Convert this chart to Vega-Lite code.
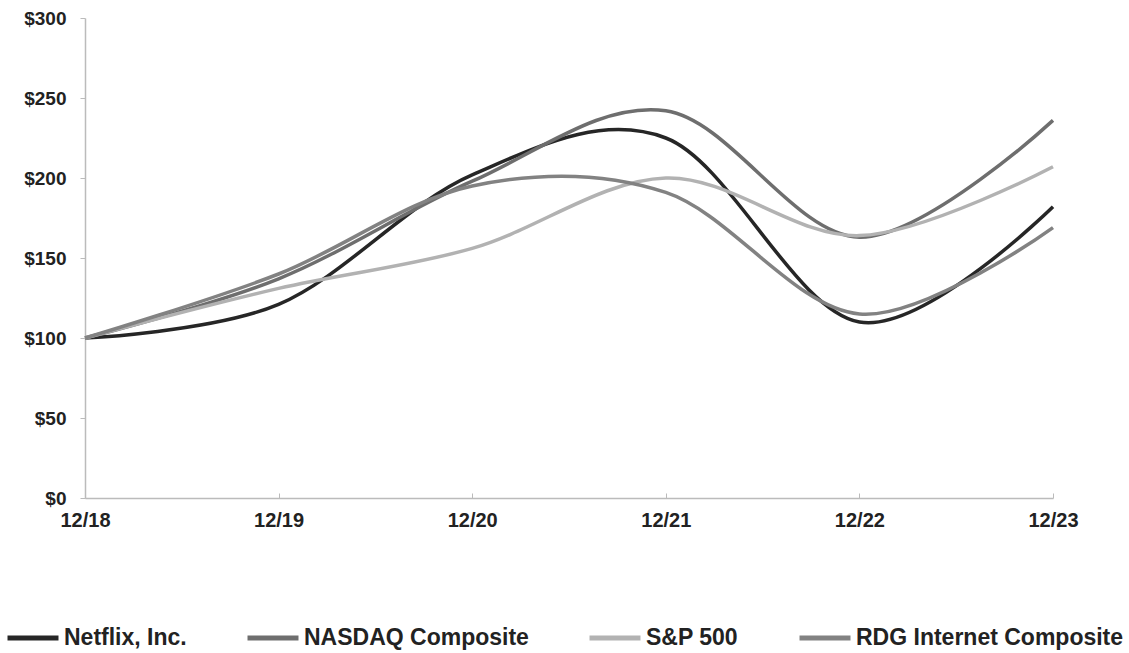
{
  "$schema": "https://vega.github.io/schema/vega-lite/v6.json",
  "width": 968,
  "height": 480,
  "autosize": {"type": "none"},
  "padding": {"left": 85, "top": 18, "right": 76, "bottom": 155},
  "background": "white",
  "config": {
    "view": {"stroke": null},
    "font": "Liberation Sans"
  },
  "data": {
    "values": [
      {"year": "12/18", "series": "Netflix, Inc.", "value": 100},
      {"year": "12/19", "series": "Netflix, Inc.", "value": 121},
      {"year": "12/20", "series": "Netflix, Inc.", "value": 202},
      {"year": "12/21", "series": "Netflix, Inc.", "value": 225},
      {"year": "12/22", "series": "Netflix, Inc.", "value": 110},
      {"year": "12/23", "series": "Netflix, Inc.", "value": 182},
      {"year": "12/18", "series": "NASDAQ Composite", "value": 100},
      {"year": "12/19", "series": "NASDAQ Composite", "value": 137},
      {"year": "12/20", "series": "NASDAQ Composite", "value": 198},
      {"year": "12/21", "series": "NASDAQ Composite", "value": 242},
      {"year": "12/22", "series": "NASDAQ Composite", "value": 163},
      {"year": "12/23", "series": "NASDAQ Composite", "value": 236},
      {"year": "12/18", "series": "S&P 500", "value": 100},
      {"year": "12/19", "series": "S&P 500", "value": 131},
      {"year": "12/20", "series": "S&P 500", "value": 156},
      {"year": "12/21", "series": "S&P 500", "value": 200},
      {"year": "12/22", "series": "S&P 500", "value": 164},
      {"year": "12/23", "series": "S&P 500", "value": 207},
      {"year": "12/18", "series": "RDG Internet Composite", "value": 100},
      {"year": "12/19", "series": "RDG Internet Composite", "value": 140},
      {"year": "12/20", "series": "RDG Internet Composite", "value": 195},
      {"year": "12/21", "series": "RDG Internet Composite", "value": 191},
      {"year": "12/22", "series": "RDG Internet Composite", "value": 115},
      {"year": "12/23", "series": "RDG Internet Composite", "value": 169}
    ]
  },
  "mark": {"type": "line", "interpolate": "cardinal", "strokeWidth": 3.5},
  "encoding": {
    "x": {
      "field": "year",
      "type": "ordinal",
      "scale": {"type": "point", "padding": 0},
      "axis": {
        "title": null,
        "labelAngle": 0,
        "labelFontSize": 20,
        "labelFontWeight": "bold",
        "labelColor": "#222222",
        "labelPadding": 17,
        "tickSize": -5,
        "tickColor": "#bbbbbb",
        "domainColor": "#bbbbbb",
        "domainWidth": 1.5,
        "grid": false
      }
    },
    "y": {
      "field": "value",
      "type": "quantitative",
      "scale": {"domain": [0, 300], "nice": false},
      "axis": {
        "title": null,
        "values": [0, 50, 100, 150, 200, 250, 300],
        "format": "$.0f",
        "labelFontSize": 19,
        "labelFontWeight": "bold",
        "labelColor": "#222222",
        "labelPadding": 14,
        "tickSize": 5,
        "tickColor": "#bbbbbb",
        "domainColor": "#bbbbbb",
        "domainWidth": 1.5,
        "grid": false
      }
    },
    "color": {
      "field": "series",
      "type": "nominal",
      "sort": ["Netflix, Inc.", "NASDAQ Composite", "S&P 500", "RDG Internet Composite"],
      "scale": {
        "domain": ["Netflix, Inc.", "NASDAQ Composite", "S&P 500", "RDG Internet Composite"],
        "range": ["#262626", "#6e6e6e", "#b2b2b2", "#828282"]
      },
      "legend": {
        "title": null,
        "orient": "none",
        "direction": "horizontal",
        "legendX": -80,
        "legendY": 592,
        "padding": 0,
        "symbolType": "stroke",
        "symbolSize": 2600,
        "symbolStrokeWidth": 5,
        "labelFontSize": 23,
        "labelFontWeight": "bold",
        "labelColor": "#222222",
        "labelOffset": 3,
        "columnPadding": 50,
        "labelLimit": 400
      }
    }
  }
}
